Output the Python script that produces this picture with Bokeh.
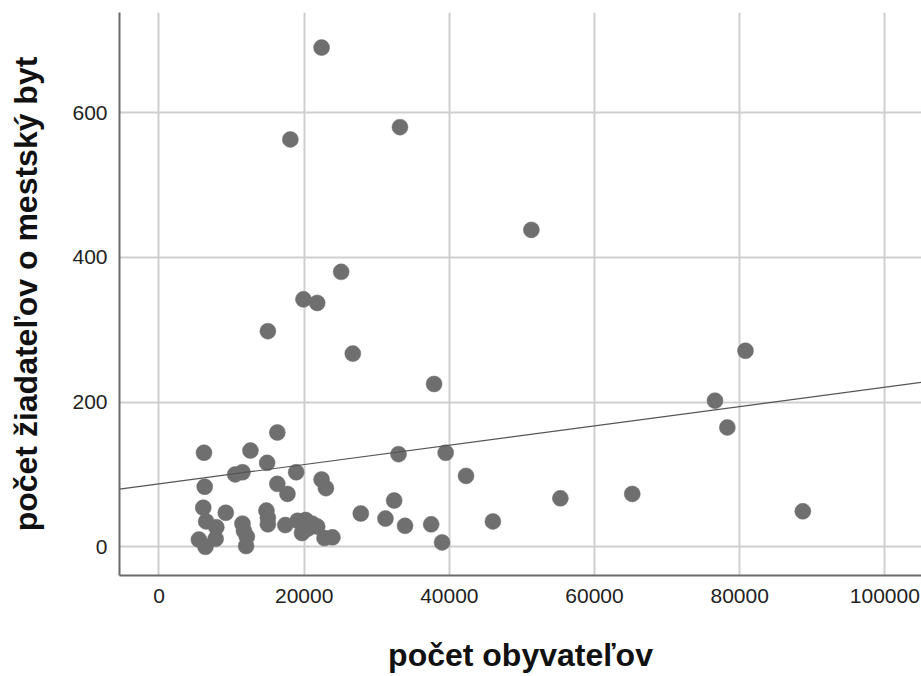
import numpy as np
from bokeh.plotting import figure
from bokeh.models import FixedTicker, ColumnDataSource, Range1d, NumeralTickFormatter
from bokeh.embed import file_html
from bokeh.resources import INLINE

# počet obyvateľov (x) and počet žiadateľov o mestský byt (y)
population = [22400, 18100, 33200, 25100, 51300, 19900, 21800, 15000, 26700, 37900,
              16300, 80800, 76600, 78300, 88700, 65200, 55300, 46000, 42300, 33000,
              39500, 22400, 23000, 32400, 27800, 31200, 33900, 37500, 39000, 22800,
              23900, 6200, 12600, 14900, 10500, 11500, 18900, 6300, 16300, 17700,
              6100, 9200, 14800, 15000, 15000, 6500, 7900, 11500, 11700, 12100,
              12000, 5500, 7800, 6400, 17400, 19100, 20200, 21100, 21800, 19700,
              20500]
applicants = [690, 563, 580, 380, 438, 342, 337, 298, 267, 225,
              158, 271, 202, 165, 49, 73, 67, 35, 98, 128,
              130, 93, 81, 64, 46, 39, 29, 31, 6, 12,
              13, 130, 133, 116, 100, 103, 103, 83, 87, 73,
              54, 47, 50, 40, 31, 35, 27, 32, 22, 14,
              1, 10, 11, 0, 30, 36, 37, 32, 28, 19,
              25]

x_ticks = [0, 20000, 40000, 60000, 80000, 100000]
y_ticks = [0, 200, 400, 600]

x_min, x_max = -5440, 105050
y_min, y_max = -39.7, 738.5

p = figure(width=921, height=676, output_backend="svg", toolbar_location=None,
           x_range=Range1d(x_min, x_max), y_range=Range1d(y_min, y_max),
           min_border_left=119, min_border_right=0, min_border_top=12,
           min_border_bottom=101)
p.outline_line_color = None
p.background_fill_color = "white"
p.border_fill_color = "white"

for ax in (p.xaxis[0], p.yaxis[0]):
    ax.major_tick_line_color = None
    ax.minor_tick_line_color = None
    ax.major_tick_out = 0
    ax.major_tick_in = 0
    ax.axis_line_color = "#6a6a6a"
    ax.axis_line_width = 2
    ax.major_label_text_font = "Liberation Sans"
    ax.major_label_text_font_size = "21px"
    ax.major_label_text_color = "#222222"
    ax.axis_label_text_font = "Liberation Sans"
    ax.axis_label_text_font_size = "32px"
    ax.axis_label_text_font_style = "bold"
    ax.axis_label_text_color = "#111111"
    ax.formatter = NumeralTickFormatter(format="0")

p.xaxis.ticker = FixedTicker(ticks=x_ticks)
p.yaxis.ticker = FixedTicker(ticks=y_ticks)
p.xaxis.axis_label = "počet obyvateľov"
p.yaxis.axis_label = "počet žiadateľov o mestský byt"
p.xaxis.major_label_standoff = 13
p.yaxis.major_label_standoff = 12
p.xaxis.axis_label_standoff = 31
p.yaxis.axis_label_standoff = 25

p.xgrid.ticker = FixedTicker(ticks=x_ticks)
p.ygrid.ticker = FixedTicker(ticks=y_ticks)
for g in (p.xgrid[0], p.ygrid[0]):
    g.grid_line_color = "#cfcfcf"
    g.grid_line_width = 2

src = ColumnDataSource(dict(x=population, y=applicants))
p.scatter("x", "y", source=src, size=16, fill_color="#6f6f6f", line_color="#6f6f6f",
          line_width=0.5)

slope, intercept = np.polyfit(np.array(population, float), np.array(applicants, float), 1)
fx = np.array([x_min, x_max])
p.line(fx, intercept + slope * fx, line_color="#555555", line_width=1.2)

open("out.html", "w").write(file_html(p, INLINE))
